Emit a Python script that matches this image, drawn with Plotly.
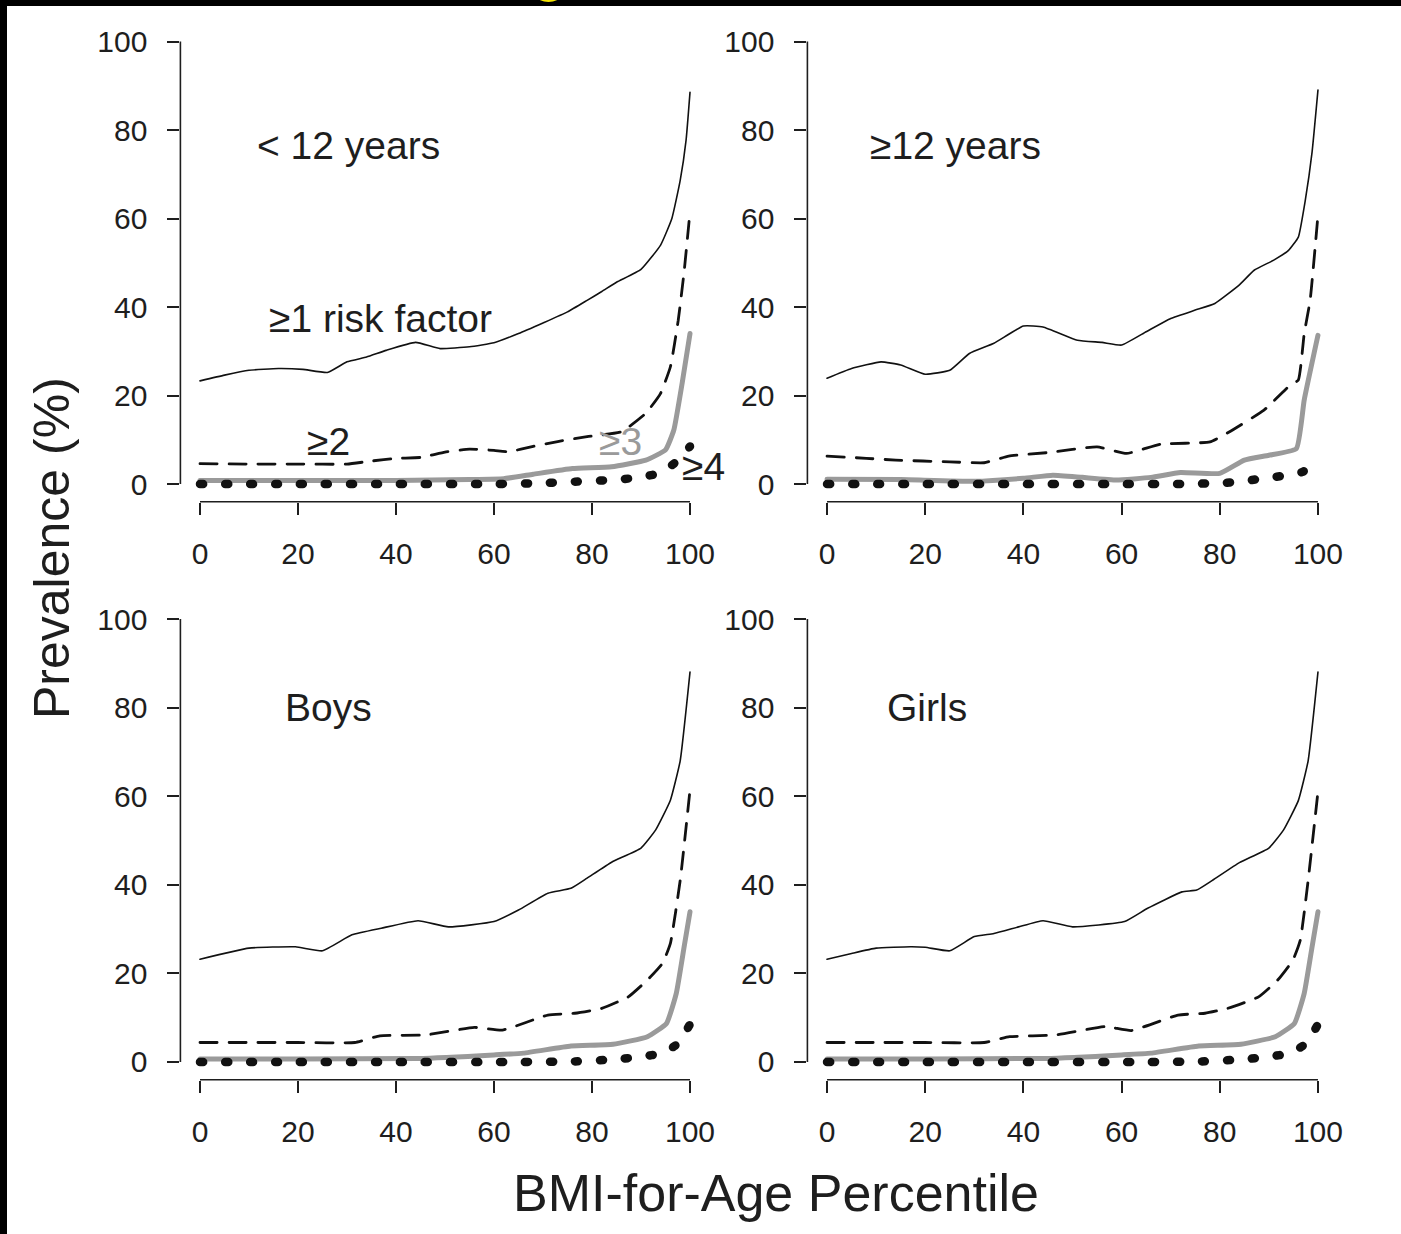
import plotly.graph_objects as go

# layout positions are given in pixels of a 1401 x 1234 frame
W, H = 1401, 1234
FIG_W = 1406  # figure width handed to plotly

# ---- prevalence curves (%), by BMI-for-age percentile ----
# Panel A: < 12 years
a1_x = [0, 5, 10, 16, 21, 26, 30, 34, 38, 44, 49, 55, 60, 65, 70, 75, 79, 82, 85, 90, 94, 96.3, 98, 99.2, 100]
a1_y = [23.3, 24.6, 25.7, 26.1, 25.9, 25.2, 27.6, 28.7, 30.2, 32.0, 30.6, 31.0, 31.9, 34.0, 36.4, 38.9, 41.5, 43.5, 45.6, 48.5, 54.0, 60.0, 68.6, 77.7, 88.5]
a2_x = [0, 10, 20, 30, 35, 40, 45, 50, 55, 60, 63, 68, 73, 79, 86, 91, 94, 96, 97.6, 98.8, 100]
a2_y = [4.6, 4.5, 4.5, 4.5, 5.2, 5.8, 6.0, 7.2, 7.9, 7.6, 7.3, 8.5, 9.6, 10.7, 11.8, 16.0, 20.5, 26.5, 37.0, 48.0, 61.5]
a3_x = [0, 20, 40, 55, 62, 68, 76, 84, 91, 95, 96.7, 98.4, 100]
a3_y = [0.8, 0.8, 0.8, 1.0, 1.2, 2.2, 3.5, 3.9, 5.4, 7.7, 12.2, 22.8, 34.0]
a4_x = [0, 20, 40, 60, 70, 76, 84, 89, 94, 97.6, 100]
a4_y = [0, 0, 0, 0, 0.2, 0.5, 0.9, 1.4, 2.5, 5.4, 8.5]

# Panel B: >= 12 years
b1_x = [0, 5, 11, 15, 20, 25, 29, 34, 40, 44, 51, 56, 60, 65, 70, 75, 79, 84, 87, 91, 94, 96, 97.4, 98.8, 100]
b1_y = [23.9, 26.1, 27.6, 26.9, 24.8, 25.7, 29.5, 31.8, 35.7, 35.5, 32.5, 32.0, 31.4, 34.4, 37.4, 39.3, 40.8, 45.0, 48.3, 50.6, 52.8, 55.8, 64.0, 75.0, 89.0]
b2_x = [0, 8, 14, 25, 32, 37, 45, 55, 61, 68, 78, 82, 89, 94, 96, 97.2, 98.4, 100]
b2_y = [6.3, 5.8, 5.4, 5.0, 4.8, 6.3, 7.1, 8.4, 6.9, 9.0, 9.5, 11.8, 16.7, 22.0, 23.5, 34.0, 41.5, 60.7]
b3_x = [0, 15, 30, 40, 46, 52, 59, 66, 72, 80, 85, 90, 95.6, 97.2, 100]
b3_y = [1.1, 1.0, 0.6, 1.3, 2.0, 1.5, 0.9, 1.5, 2.6, 2.4, 5.4, 6.5, 8.0, 19.0, 33.6]
b4_x = [0, 20, 40, 60, 72, 80, 84, 89, 94, 97, 100]
b4_y = [0, 0, 0, 0, 0, 0.2, 0.5, 1.3, 2.0, 2.8, 6.5]

# Panel C: boys
c1_x = [0, 10, 19.5, 25, 31, 37, 44.5, 50.7, 60, 65, 71, 75.7, 79, 84, 90, 93, 96, 98, 100]
c1_y = [23.2, 25.7, 26.0, 25.1, 28.7, 30.2, 31.9, 30.5, 31.7, 34.3, 38.1, 39.2, 41.5, 45.1, 48.3, 52.4, 59.1, 68.0, 88.0]
c2_x = [0, 10, 20, 31.6, 36.7, 46, 56, 61.7, 71, 76.5, 82, 87.4, 91.3, 94.4, 96, 98, 100]
c2_y = [4.4, 4.4, 4.4, 4.4, 5.9, 6.1, 7.8, 7.2, 10.6, 11.0, 12.1, 14.7, 18.5, 22.3, 26.8, 41.0, 61.4]
c3_x = [0, 20, 44.5, 60, 66, 75.7, 84.3, 91.3, 95.2, 97.2, 98.8, 100]
c3_y = [0.7, 0.7, 0.8, 1.6, 2.0, 3.6, 4.0, 5.7, 8.7, 15.5, 26.0, 33.9]
c4_x = [0, 20, 40, 62, 75.7, 85, 90, 94.4, 97.6, 100]
c4_y = [0, 0, 0, 0, 0.1, 0.6, 1.2, 2.0, 4.2, 8.5]

# Panel D: girls
d1_x = [0, 5, 10, 17, 20, 25, 30, 34, 39, 44, 50, 60.6, 65.3, 72.3, 75.3, 78.5, 84, 90, 93, 96, 98, 100]
d1_y = [23.2, 24.5, 25.7, 26.0, 25.9, 25.1, 28.3, 29.0, 30.5, 31.9, 30.5, 31.7, 34.7, 38.4, 38.8, 41.0, 45.0, 48.3, 52.4, 59.0, 68.0, 88.0]
d2_x = [0, 10, 20, 32, 37.2, 46.5, 56.7, 62, 71.5, 77, 81.6, 87.9, 91.8, 94.9, 96.4, 98, 100]
d2_y = [4.4, 4.4, 4.4, 4.4, 5.7, 6.1, 8.0, 7.1, 10.6, 11.0, 12.1, 14.7, 18.5, 23.0, 27.5, 41.0, 61.0]
d3_x = [0, 20, 44.5, 60, 66, 75.7, 84.3, 91.3, 95.2, 97.2, 98.8, 100]
d3_y = [0.7, 0.7, 0.8, 1.6, 2.0, 3.6, 4.0, 5.7, 8.7, 15.5, 26.0, 33.9]
d4_x = [0, 20, 40, 62, 75.7, 85, 90, 94.4, 97.6, 100]
d4_y = [0, 0, 0, 0, 0.1, 0.6, 1.2, 2.0, 4.2, 8.5]

panel_titles = ["< 12 years", "\u226512 years", "Boys", "Girls"]
tick_vals = [0, 20, 40, 60, 80, 100]
tick_text = ["0", "20", "40", "60", "80", "100"]

FONT = "Liberation Sans, Arial, Helvetica, sans-serif"
INK = "#1e1e1e"

# pixel boxes of each plot region (left, right, top, bottom)
boxes = [(180.4, 709.6, 23.8, 501.7), (807.4, 1337.6, 23.8, 501.7),
         (180.4, 709.6, 601.3, 1079.7), (807.4, 1337.6, 601.3, 1079.7)]

series = [
    [(a1_x, a1_y), (a2_x, a2_y), (a3_x, a3_y), (a4_x, a4_y)],
    [(b1_x, b1_y), (b2_x, b2_y), (b3_x, b3_y), (b4_x, b4_y)],
    [(c1_x, c1_y), (c2_x, c2_y), (c3_x, c3_y), (c4_x, c4_y)],
    [(d1_x, d1_y), (d2_x, d2_y), (d3_x, d3_y), (d4_x, d4_y)],
]

styles = [
    dict(color="#111111", width=1.6, dash="solid"),
    dict(color="#111111", width=2.8, dash="17px,12px"),
    dict(color="#9a9a9a", width=5, dash="solid"),
    dict(color="#111111", width=8.5, dash="3px,22px"),
]
names = ["\u22651 risk factor", "\u22652", "\u22653", "\u22654"]

fig = go.Figure()
layout_axes = {}
shapes = []

for i, (box, panel) in enumerate(zip(boxes, series)):
    k = "" if i == 0 else str(i + 1)
    xa, ya = "x" + k, "y" + k
    l, r, t, b = box
    for (xs, ys), st, nm in zip(panel, styles, names):
        fig.add_trace(go.Scatter(x=xs, y=ys, mode="lines", name=nm,
                                 line=dict(color=st["color"], width=st["width"],
                                           dash=st["dash"], shape="spline", smoothing=0.4),
                                 xaxis=xa, yaxis=ya, showlegend=False,
                                 hoverinfo="skip"))
    common = dict(range=[-4, 104], showgrid=False, zeroline=False, showline=False,
                  ticks="outside", ticklen=12, tickwidth=1.6, tickcolor=INK,
                  tickvals=tick_vals, ticktext=tick_text,
                  tickfont=dict(family=FONT, size=30, color=INK), fixedrange=True)
    layout_axes["xaxis" + k] = dict(common, domain=[l / W, r / W], anchor=ya,
                                    ticklabelstandoff=13)
    layout_axes["yaxis" + k] = dict(common, domain=[1 - b / H, 1 - t / H], anchor=xa,
                                    ticklabelstandoff=14)
    # axis lines only span the tick range, as in base-graphics plots
    shapes.append(dict(type="line", xref=xa, yref=ya + " domain", x0=0, x1=100, y0=0, y1=0,
                       line=dict(color=INK, width=1.6)))
    shapes.append(dict(type="line", xref=xa + " domain", yref=ya, x0=0, x1=0, y0=0, y1=100,
                       line=dict(color=INK, width=1.6)))

# dark page edges along the top and left
shapes.insert(0, dict(type="rect", xref="paper", yref="paper", x0=0, x1=1.0,
                      y0=1 - 6 / H, y1=1.0, fillcolor="black", line=dict(width=0),
                      layer="below"))
shapes.insert(0, dict(type="rect", xref="paper", yref="paper", x0=0, x1=7 / W,
                      y0=0, y1=1.0, fillcolor="black", line=dict(width=0),
                      layer="below"))
shapes.append(dict(type="circle", xref="paper", yref="paper", x0=537 / W, x1=560 / W,
                   y0=1 - 2 / H, y1=1 + 10 / H, fillcolor="#f5e400", line=dict(width=0)))

TXT = 39
annotations = [
    dict(text=panel_titles[0], x=11.2, y=76.5, xref="x", yref="y"),
    dict(text=panel_titles[1], x=8.4, y=76.5, xref="x2", yref="y2"),
    dict(text=panel_titles[2], x=16.9, y=80.1, xref="x3", yref="y3"),
    dict(text=panel_titles[3], x=11.8, y=80.1, xref="x4", yref="y4"),
    dict(text=names[0], x=13.7, y=37.5, xref="x", yref="y"),
    dict(text=names[1], x=21.4, y=9.5, xref="x", yref="y"),
    dict(text=names[2], x=81.0, y=9.5, xref="x", yref="y", color="#9a9a9a"),
    dict(text=names[3], x=98.0, y=4.0, xref="x", yref="y"),
]
ann = []
for a in annotations:
    col = a.pop("color", INK)
    ann.append(dict(a, xanchor="left", yanchor="middle", showarrow=False,
                    font=dict(family=FONT, size=TXT, color=col)))

ann.append(dict(text="Prevalence (%)", x=52 / W, y=1 - 548 / H, xref="paper", yref="paper",
                textangle=-90, showarrow=False, xanchor="center", yanchor="middle",
                font=dict(family=FONT, size=50, color=INK)))
ann.append(dict(text="BMI-for-Age Percentile", x=776 / W, y=1 - 1193 / H, xref="paper",
                yref="paper", showarrow=False, xanchor="center", yanchor="middle",
                font=dict(family=FONT, size=52, color=INK)))

fig.update_layout(
    width=FIG_W, height=H, margin=dict(l=0, r=0, t=0, b=0),
    paper_bgcolor="white", plot_bgcolor="rgba(0,0,0,0)",
    shapes=shapes, annotations=ann, showlegend=False,
    **layout_axes,
)

# page background, and round caps so the dotted series renders as round dots
post = """
document.documentElement.style.background = 'white';
document.body.style.background = 'white';
document.body.style.margin = '0';
document.querySelectorAll('path.js-line').forEach(function(p){
  p.style.strokeLinecap = 'round';
  p.style.strokeLinejoin = 'round';
});
"""
fig.write_html("out.html", post_script=post,
               config={"displayModeBar": False, "responsive": False})
